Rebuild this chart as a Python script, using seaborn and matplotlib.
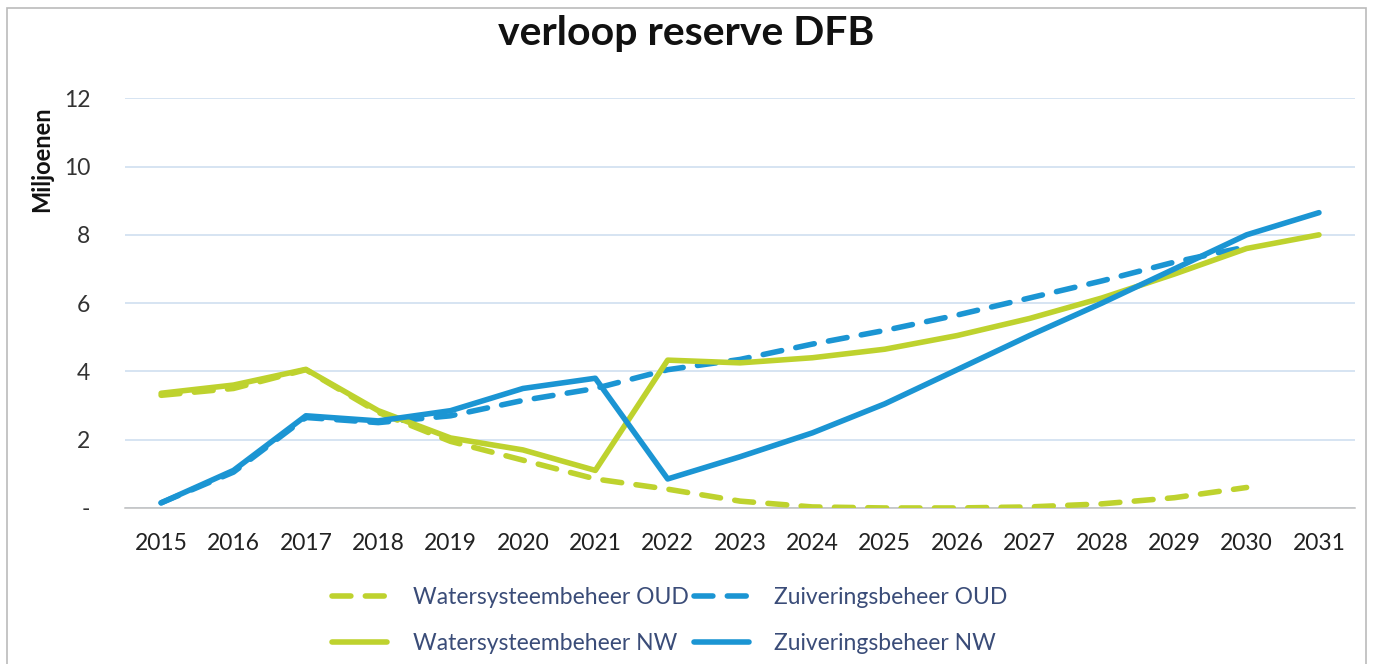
import numpy as np
import pandas as pd
import matplotlib.pyplot as plt
import seaborn as sns
from matplotlib.patches import Rectangle

years = list(range(2015, 2032))

water_oud = [3.3, 3.5, 4.05, 2.8, 1.95, 1.4, 0.85, 0.55, 0.2, 0.03, 0.0, 0.0, 0.03, 0.12, 0.3, 0.6, np.nan]
zuiv_oud = [0.15, 1.05, 2.65, 2.5, 2.7, 3.15, 3.5, 4.05, 4.35, 4.8, 5.2, 5.65, 6.15, 6.65, 7.2, 7.65, np.nan]
water_nw = [3.36, 3.6, 4.06, 2.85, 2.05, 1.7, 1.1, 4.33, 4.25, 4.4, 4.65, 5.05, 5.55, 6.15, 6.85, 7.6, 8.0]
zuiv_nw = [0.15, 1.1, 2.7, 2.55, 2.85, 3.5, 3.8, 0.85, 1.5, 2.2, 3.05, 4.05, 5.05, 6.0, 7.0, 8.0, 8.65]

series = {
    "Watersysteembeheer OUD": water_oud,
    "Watersysteembeheer NW": water_nw,
    "Zuiveringsbeheer OUD": zuiv_oud,
    "Zuiveringsbeheer NW": zuiv_nw,
}

green = "#BED22E"
blue = "#1B95D3"
styles = {
    "Watersysteembeheer OUD": (green, (3.4, 2.6)),
    "Watersysteembeheer NW": (green, None),
    "Zuiveringsbeheer OUD": (blue, (3.4, 2.6)),
    "Zuiveringsbeheer NW": (blue, None),
}

sns.set_style("white")
plt.rcParams["font.family"] = ["Lato", "DejaVu Sans"]

fig = plt.figure(figsize=(13.73, 6.64), dpi=100)
ax = fig.add_axes([0.091, 0.235, 0.896, 0.617])

# dashed first, solid on top
for name in ["Watersysteembeheer OUD", "Zuiveringsbeheer OUD", "Watersysteembeheer NW", "Zuiveringsbeheer NW"]:
    col, dash = styles[name]
    df = pd.DataFrame({"jaar": years, "waarde": series[name]})
    sns.lineplot(data=df, x="jaar", y="waarde", ax=ax, color=col, lw=4.0,
                 label=name, zorder=3 if dash else 4)
    line = ax.lines[-1]
    if dash:
        line.set_dashes(dash)
        line.set_dash_capstyle("round")
    line.set_solid_capstyle("round")

handles, labels = ax.get_legend_handles_labels()
ax.get_legend().remove()

ax.set_xlim(2014.5, 2031.5)
ax.set_ylim(0, 12)
ax.set_xticks(years)
ax.set_xticklabels([str(y) for y in years], fontsize=16.5, color="#222222")
ax.set_xticks(np.arange(2014.5, 2032, 1), minor=True)
ax.set_yticks([0, 2, 4, 6, 8, 10, 12])
ax.set_yticklabels(["-", "2", "4", "6", "8", "10", "12"], fontsize=16.5, color="#333333")
ax.tick_params(axis="x", which="major", length=0, pad=18)
ax.tick_params(axis="x", which="minor", length=6, color="#BFBFBF", width=1, direction="out")
ax.tick_params(axis="y", length=0, pad=25)
ax.yaxis.grid(True, color="#CCDCEF", lw=1.1)
ax.set_axisbelow(True)
for s in ["top", "right", "left"]:
    ax.spines[s].set_visible(False)
ax.spines["bottom"].set_color("#BFBFBF")
ax.spines["bottom"].set_linewidth(1.1)

ax.set_xlabel("")
ax.set_ylabel("Miljoenen", fontsize=17, fontweight="bold", color="#111111")
ax.yaxis.set_label_coords(-0.058, 0.851)

fig.suptitle("verloop reserve DFB", fontsize=29.5, fontweight="bold", x=0.5, y=0.978, color="#111111")

order = ["Watersysteembeheer OUD", "Watersysteembeheer NW", "Zuiveringsbeheer OUD", "Zuiveringsbeheer NW"]
h = [handles[labels.index(n)] for n in order]
leg = fig.legend(h, order, ncol=2, loc="center", bbox_to_anchor=(0.488, 0.066), frameon=False,
                 fontsize=16.5, handlelength=2.4, columnspacing=0.25, labelspacing=1.1,
                 handletextpad=1.1)
for t in leg.get_texts():
    t.set_color("#3A4C78")

fig.patches.append(Rectangle((0.005, -0.01), 0.99, 0.998, transform=fig.transFigure,
                             fill=False, edgecolor="#BBBBBB", lw=1.2))

fig.savefig("out.png", dpi=100)
